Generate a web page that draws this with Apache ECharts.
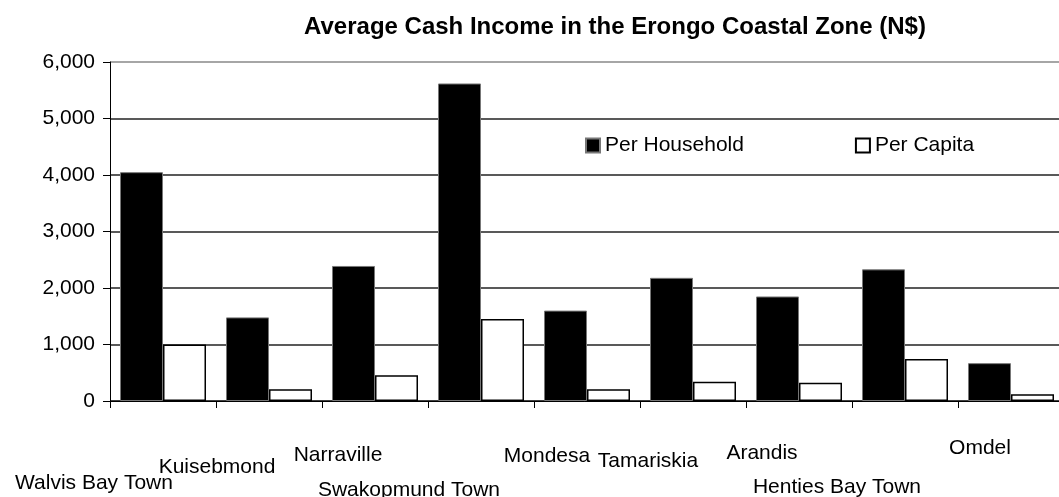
<!DOCTYPE html>
<html>
<head>
<meta charset="utf-8">
<script src="https://cdn.jsdelivr.net/npm/echarts@6/dist/echarts.min.js"></script>
<style>
  html, body { margin: 0; padding: 0; background: #fff; }
  #main { width: 1059px; height: 497px; }
</style>
</head>
<body>
<div id="main"></div>
<script>
var categories = ['Walvis Bay Town', 'Kuisebmond', 'Narraville', 'Swakopmund Town', 'Mondesa',
                  'Tamariskia', 'Arandis', 'Henties Bay Town', 'Omdel'];
var perHousehold = [4050, 1480, 2390, 5620, 1600, 2180, 1850, 2330, 670];
var perCapita = [1000, 210, 455, 1450, 210, 340, 325, 745, 120];
var yTicks = [0, 1000, 2000, 3000, 4000, 5000, 6000];

// staggered category labels: [shift left, push down]
var labelShift = [[69, 144], [52, 112], [37, 88], [72, 158], [40, 90], [45, 100], [37, 84], [68, 152], [31, 74]];

var rich = {};
labelShift.forEach(function (s, i) {
  rich['l' + i] = {
    fontSize: 21,
    lineHeight: 21,
    color: '#000',
    fontFamily: 'Liberation Sans, Arial, sans-serif',
    padding: [s[1], s[0] * 2, 0, 0]
  };
});

var myChart = echarts.init(document.getElementById('main'));

var option = {
  animation: false,
  title: {
    text: 'Average Cash Income in the Erongo Coastal Zone (N$)',
    left: 610,
    top: 10,
    textAlign: 'center',
    textStyle: {
      fontFamily: 'Liberation Sans, Arial, sans-serif',
      fontSize: 24,
      fontWeight: 'bold',
      color: '#000'
    }
  },
  legend: {
    data: ['Per Household', 'Per Capita'],
    left: 580,
    top: 130,
    itemGap: 111,
    itemWidth: 14,
    itemHeight: 14,
    icon: 'rect',
    textStyle: { fontSize: 21, color: '#000', fontFamily: 'Liberation Sans, Arial, sans-serif' }
  },
  grid: { left: 110, top: 62, bottom: 96, width: 954, containLabel: false, outerBoundsMode: 'none' },
  xAxis: {
    type: 'category',
    data: categories,
    axisLine: { lineStyle: { color: '#000', width: 1 } },
    axisTick: { show: true, length: 7, lineStyle: { color: '#000' } },
    axisLabel: {
      interval: 0,
      margin: 0,
      verticalAlign: 'top',
      formatter: function (v, i) { return '{l' + i + '|' + v + '}'; },
      rich: rich
    }
  },
  yAxis: {
    type: 'value',
    min: yTicks[0],
    max: yTicks[yTicks.length - 1],
    interval: 1000,
    axisLine: { show: true, lineStyle: { color: '#000' } },
    axisTick: { show: true, length: 7, lineStyle: { color: '#000' } },
    axisLabel: {
      margin: 15,
      fontSize: 21,
      color: '#000',
      fontFamily: 'Liberation Sans, Arial, sans-serif',
      formatter: function (v) { return v.toLocaleString('en-US'); }
    },
    splitLine: { show: true, lineStyle: { color: ['#000', '#222', '#222', '#222', '#222', '#222', '#888'], width: 1.5 } }
  },
  series: [
    {
      name: 'Per Household',
      type: 'bar',
      data: perHousehold,
      barWidth: 43,
      barGap: '0%',
      itemStyle: { color: '#000', borderColor: '#777', borderWidth: 1 }
    },
    {
      name: 'Per Capita',
      type: 'bar',
      data: perCapita,
      barWidth: 43,
      itemStyle: { color: '#fff', borderColor: '#000', borderWidth: 1.5 }
    }
  ]
};

myChart.setOption(option);
</script>
</body>
</html>
